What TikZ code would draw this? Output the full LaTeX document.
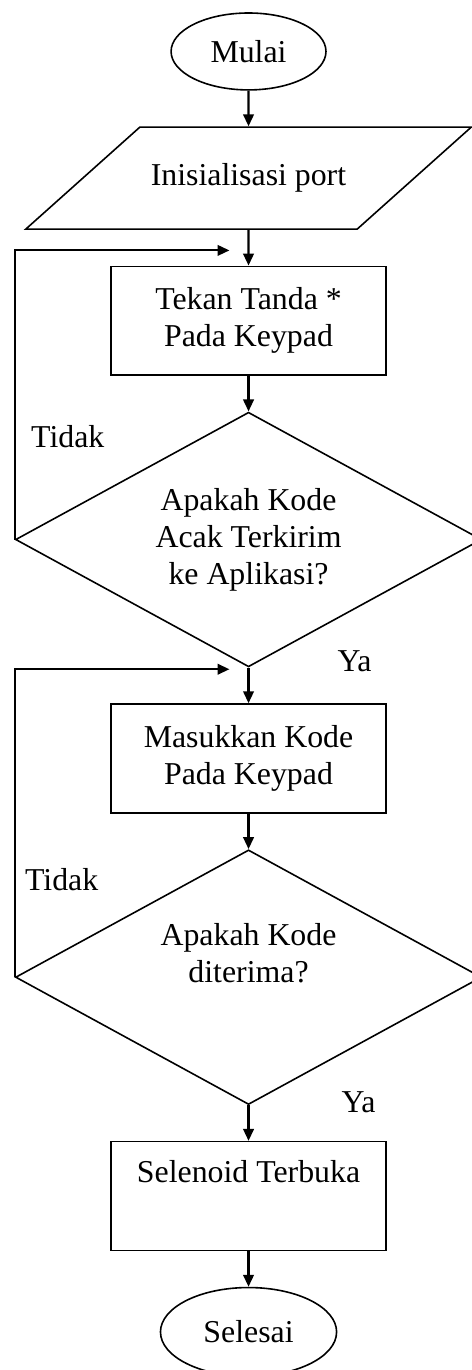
\documentclass[tikz,border=0pt]{standalone}
\usepackage{fontspec}
\setmainfont{Liberation Serif}
\usetikzlibrary{arrows.meta,positioning,shapes.geometric}

\begin{document}
\begin{tikzpicture}[
    node distance=13.4pt,
    font=\fontsize{12pt}{14pt}\selectfont,
    term/.style={
        draw,
        ellipse,
        inner sep=0pt,
        line width=0.6pt
    },
    io/.style={
        draw,
        trapezium,
        trapezium left angle=41.8,
        trapezium right angle=138.2,
        trapezium stretches body=true,
        text height=8pt,
        text depth=2.5pt,
        inner ysep=14pt,
        minimum width=168pt,
        line width=0.6pt
    },
    proc/.style={
        draw,
        align=center,
        minimum width=103.7pt,
        minimum height=41pt,
        line width=0.6pt
    },
    dec/.style={
        draw,
        diamond,
        aspect=1.83,
        align=center,
        inner sep=0pt,
        minimum width=175.7pt,
        minimum height=96pt,
        line width=0.6pt
    },
    lbl/.style={inner sep=0pt},
    arr/.style={-{Triangle[length=4.5pt,width=4pt]}, line width=0.8pt}
]
\useasboundingbox (-93.7pt,19.4pt) rectangle (83.9pt,-497.1pt);

\node[term, minimum width=58.4pt, minimum height=29pt] (start) at (0,0) {Mulai};
\node[io, below=of start] (init) {Inisialisasi port};
\node[proc, below=of init] (box1) {Tekan Tanda *\\Pada Keypad};
\node[dec, below=of box1] (dec1) {Apakah Kode\\Acak Terkirim\\ke Aplikasi?};
\node[proc, below=of dec1] (box2) {Masukkan Kode\\Pada Keypad};
\node[dec, below=of box2] (dec2) {Apakah Kode\\diterima?\\ \strut};
\node[proc, below=of dec2] (box3) {Selenoid Terbuka\\ \strut};
\node[term, below=of box3, minimum width=66.4pt, minimum height=33.5pt] (stop) {Selesai};

% loop back points
\coordinate (back1) at ([shift={(-7.2pt,5.7pt)}]box1.north);
\coordinate (back2) at ([shift={(-7.2pt,12.8pt)}]box2.north);

\draw[arr] (start) -- (init);
\draw[arr] (init) -- (box1);
\draw[arr] (box1) -- (dec1);
\draw[arr] (dec1) -- (box2);
\draw[arr] (box2) -- (dec2);
\draw[arr] (dec2) -- (box3);
\draw[arr] (box3) -- (stop);

\draw[arr] (dec1.west) |- (back1);
\draw[arr] (dec2.west) |- (back2);

\node[lbl] (no1) at ([shift={(20pt,38.8pt)}]dec1.west) {Tidak};
\node[lbl] (yes1) at ([shift={(40pt,2.5pt)}]dec1.south) {Ya};
\node[lbl] (no2) at ([shift={(17.7pt,36.9pt)}]dec2.west) {Tidak};
\node[lbl] (yes2) at ([shift={(41.5pt,1.1pt)}]dec2.south) {Ya};

\end{tikzpicture}
\end{document}
